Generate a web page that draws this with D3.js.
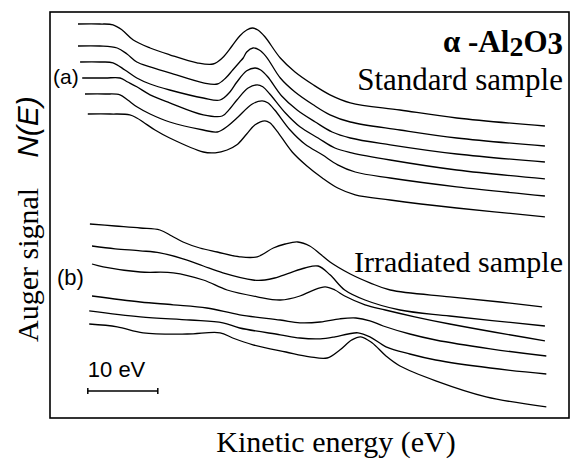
<!DOCTYPE html>
<html>
<head>
<meta charset="utf-8">
<script src="https://cdn.jsdelivr.net/npm/d3@7"></script>
<style>
  body { margin: 0; background: #fff; }
  svg { display: block; }
</style>
</head>
<body>
<div id="corpo"></div>
<script>
/*==== dados: [energia (eV), sinal Auger (u.a.)] ====*/
// (a) amostra padrao
var standard1 = [[4.0,98.5],[7.1,98.5],[9.0,98.3],[10.3,97.0],[11.9,94.5],[14.3,92.5],[17.1,90.8],[21.0,88.8],[23.3,88.5],[24.6,90.0],[26.0,93.0],[27.1,95.5],[28.1,97.0],[28.9,97.5],[29.7,97.0],[30.7,95.3],[32.9,90.0],[35.0,86.5],[37.6,83.3],[40.0,80.8],[42.9,78.8],[50.0,77.0],[58.1,75.0],[70.7,73.0]];
var standard2 = [[4.0,93.0],[7.1,93.0],[9.6,92.5],[11.0,91.0],[12.4,89.0],[14.3,87.8],[17.1,86.3],[21.9,83.8],[23.9,83.5],[25.1,85.0],[26.1,87.0],[27.1,89.0],[27.6,90.0],[28.1,91.5],[29.0,92.5],[29.9,92.0],[30.9,90.3],[32.9,85.0],[35.0,81.5],[37.6,78.3],[40.0,75.8],[42.9,74.0],[50.0,72.0],[58.1,70.0],[70.7,68.0]];
var standard3 = [[4.3,89.0],[7.1,89.0],[9.0,88.8],[10.7,87.0],[12.4,85.0],[14.3,83.5],[17.1,82.0],[21.9,80.0],[24.3,79.5],[25.7,81.5],[26.7,84.0],[28.1,86.8],[29.3,87.5],[30.1,87.0],[31.1,85.3],[33.1,80.5],[35.3,77.0],[37.9,74.0],[40.3,71.5],[42.9,70.0],[48.6,68.3],[58.1,66.0],[70.7,64.0]];
var standard4 = [[4.6,85.0],[7.9,85.0],[10.0,85.0],[11.1,84.0],[12.4,82.8],[14.3,80.8],[17.1,78.8],[21.9,75.8],[24.6,75.5],[25.7,77.3],[26.7,79.5],[28.3,82.5],[29.6,83.3],[30.4,82.8],[31.4,81.0],[33.6,76.3],[35.7,72.8],[38.3,70.0],[40.7,67.5],[43.1,66.3],[48.6,64.5],[58.1,62.0],[70.7,59.8]];
var standard5 = [[5.0,81.0],[7.9,81.0],[10.0,80.8],[11.1,79.5],[12.4,77.8],[14.3,76.0],[17.1,74.0],[21.9,72.0],[23.9,71.5],[25.4,73.0],[26.7,75.0],[28.9,78.5],[30.3,79.3],[31.1,78.8],[32.1,77.0],[34.3,72.0],[36.4,68.5],[38.9,65.8],[41.1,63.3],[43.6,61.5],[48.6,60.0],[58.1,57.8],[70.7,55.5]];
var standard6 = [[5.4,76.0],[8.6,76.0],[11.4,75.8],[12.4,75.0],[13.3,74.0],[15.0,72.0],[17.1,70.0],[21.9,66.5],[23.6,66.3],[25.3,67.0],[26.7,68.3],[28.1,71.0],[29.3,73.3],[30.7,74.3],[31.4,73.8],[32.4,71.8],[34.6,66.5],[36.7,63.0],[38.9,60.0],[41.1,57.5],[43.6,55.8],[48.6,54.5],[58.1,52.5],[70.7,50.3]];

// (b) amostra irradiada
var irradiated1 = [[5.7,48.5],[9.3,48.0],[12.9,47.5],[15.7,47.0],[17.4,45.5],[19.0,44.0],[21.4,42.5],[23.9,41.5],[27.1,40.3],[29.6,40.3],[31.9,42.5],[33.6,43.5],[35.4,44.0],[37.1,43.0],[38.6,41.0],[40.0,39.0],[42.9,36.0],[45.7,33.8],[48.6,32.0],[57.1,30.3],[64.3,29.0],[70.3,27.8]];
var irradiated2 = [[6.0,43.0],[9.3,42.3],[12.9,41.8],[15.7,41.3],[19.0,39.8],[21.9,38.0],[24.7,36.3],[29.0,34.5],[30.7,34.5],[32.1,35.0],[34.3,36.3],[36.4,37.5],[38.3,38.0],[40.0,35.8],[42.1,32.0],[45.0,29.5],[50.0,27.0],[57.1,25.5],[70.7,23.0]];
var irradiated3 = [[6.0,38.5],[7.6,37.8],[12.9,36.5],[17.6,36.3],[21.9,34.5],[25.3,32.0],[29.6,30.3],[32.9,29.5],[35.7,30.5],[37.4,31.8],[39.3,32.8],[40.7,32.0],[42.1,30.5],[45.0,28.3],[47.9,27.0],[52.1,25.3],[57.1,23.5],[70.7,19.3]];
var irradiated4 = [[6.0,30.5],[12.9,29.0],[17.6,28.3],[22.4,27.5],[27.1,25.8],[32.9,24.5],[35.7,23.8],[38.6,24.0],[41.4,24.8],[43.7,25.0],[45.7,24.3],[47.6,23.0],[51.4,21.0],[55.1,19.5],[62.9,17.3],[70.9,15.5]];
var irradiated5 = [[5.6,26.8],[12.9,25.3],[20.0,24.5],[24.7,23.8],[27.1,22.5],[32.9,20.8],[35.7,20.0],[38.6,19.8],[40.7,20.3],[42.6,21.0],[44.0,21.3],[45.7,20.3],[48.0,17.8],[51.4,16.0],[55.1,14.5],[62.9,12.5],[70.9,11.0]];
var irradiated6 = [[5.6,23.5],[9.6,22.8],[13.3,21.3],[19.6,21.0],[24.3,21.3],[26.1,20.0],[29.0,18.3],[33.7,16.5],[37.1,15.3],[39.6,15.0],[41.4,17.0],[43.1,19.5],[44.4,20.3],[46.0,18.8],[48.0,15.5],[50.0,13.0],[55.1,9.3],[62.3,5.3],[70.9,2.8]];

var standardCurves = [standard1, standard2, standard3, standard4, standard5, standard6];
var irradiatedCurves = [irradiated1, irradiated2, irradiated3, irradiated4, irradiated5, irradiated6];

// barra de escala (eV)
var scaleBarStart = 5.4;
var scaleBarLength = 10;

var serif = "'Liberation Serif', 'Times New Roman', serif";
var sans = "'Liberation Sans', Arial, sans-serif";

//tamanho do grafico
var chartWidth = 572, chartHeight = 459;
var box = {left: 50, top: 12, right: 569, bottom: 418};

var x = d3.scaleLinear().domain([0, 74.14]).range([box.left, box.right]);
var y = d3.scaleLinear().domain([0, 101.5]).range([box.bottom, box.top]);

var svg = d3.select("#corpo").append("svg")
    .attr("width", chartWidth)
    .attr("height", chartHeight);

// moldura
svg.append("rect")
    .attr("x", box.left)
    .attr("y", box.top)
    .attr("width", box.right - box.left)
    .attr("height", box.bottom - box.top)
    .style("fill", "none")
    .style("stroke", "#000")
    .style("stroke-width", 1.6);

var valueline = d3.line()
    .x(function(d) { return x(d[0]); })
    .y(function(d) { return y(d[1]); })
    .curve(d3.curveCatmullRom.alpha(0.5));

// Add the curves
svg.selectAll("path.std")
    .data(standardCurves)
    .enter().append("path")
    .attr("class", "std")
    .attr("d", valueline)
    .style("fill", "none")
    .style("stroke", "#000")
    .style("stroke-width", 1.3);

svg.selectAll("path.irr")
    .data(irradiatedCurves)
    .enter().append("path")
    .attr("class", "irr")
    .attr("d", valueline)
    .style("fill", "none")
    .style("stroke", "#000")
    .style("stroke-width", 1.3);

///TEXTOS
var title = svg.append("text")
    .attr("x", 563)
    .attr("y", 52)
    .attr("text-anchor", "end")
    .style("font-family", serif)
    .style("font-size", "31px")
    .style("font-weight", "bold");
title.append("tspan").text("\u03b1 -Al");
title.append("tspan").attr("dy", 4).style("font-size", "28px").text("2");
title.append("tspan").attr("dy", -4).text("O");
title.append("tspan").attr("dy", 2).text("3");

svg.append("text")
    .attr("x", 563)
    .attr("y", 90)
    .attr("text-anchor", "end")
    .style("font-family", serif)
    .style("font-size", "31px")
    .text("Standard sample");

svg.append("text")
    .attr("x", 563)
    .attr("y", 272)
    .attr("text-anchor", "end")
    .style("font-family", serif)
    .style("font-size", "30px")
    .text("Irradiated sample");

svg.append("text")
    .attr("x", 53)
    .attr("y", 84)
    .style("font-family", sans)
    .style("font-size", "21px")
    .text("(a)");

svg.append("text")
    .attr("x", 57)
    .attr("y", 285)
    .style("font-family", sans)
    .style("font-size", "22px")
    .text("(b)");

// eixo x
svg.append("text")
    .attr("x", 336)
    .attr("y", 452)
    .attr("text-anchor", "middle")
    .style("font-family", serif)
    .style("font-size", "30px")
    .text("Kinetic energy (eV)");

// eixo y
var ylab = svg.append("text")
    .attr("transform", "translate(38,342) rotate(-90)")
    .style("font-family", serif)
    .style("font-size", "30px");
ylab.append("tspan").text("Auger signal");
ylab.append("tspan")
    .attr("dx", 30)
    .style("font-family", sans)
    .style("font-style", "italic")
    .text("N(E)");

// barra de escala 10 eV
var barY = 391;
var bar = svg.append("g")
    .style("stroke", "#000")
    .style("stroke-width", 1.5);
bar.append("line")
    .attr("x1", x(scaleBarStart)).attr("x2", x(scaleBarStart + scaleBarLength))
    .attr("y1", barY).attr("y2", barY);
bar.append("line")
    .attr("x1", x(scaleBarStart)).attr("x2", x(scaleBarStart))
    .attr("y1", barY - 3).attr("y2", barY + 3);
bar.append("line")
    .attr("x1", x(scaleBarStart + scaleBarLength)).attr("x2", x(scaleBarStart + scaleBarLength))
    .attr("y1", barY - 3).attr("y2", barY + 3);

svg.append("text")
    .attr("x", x(scaleBarStart))
    .attr("y", 377)
    .style("font-family", sans)
    .style("font-size", "22px")
    .text("10 eV");
</script>
</body>
</html>
